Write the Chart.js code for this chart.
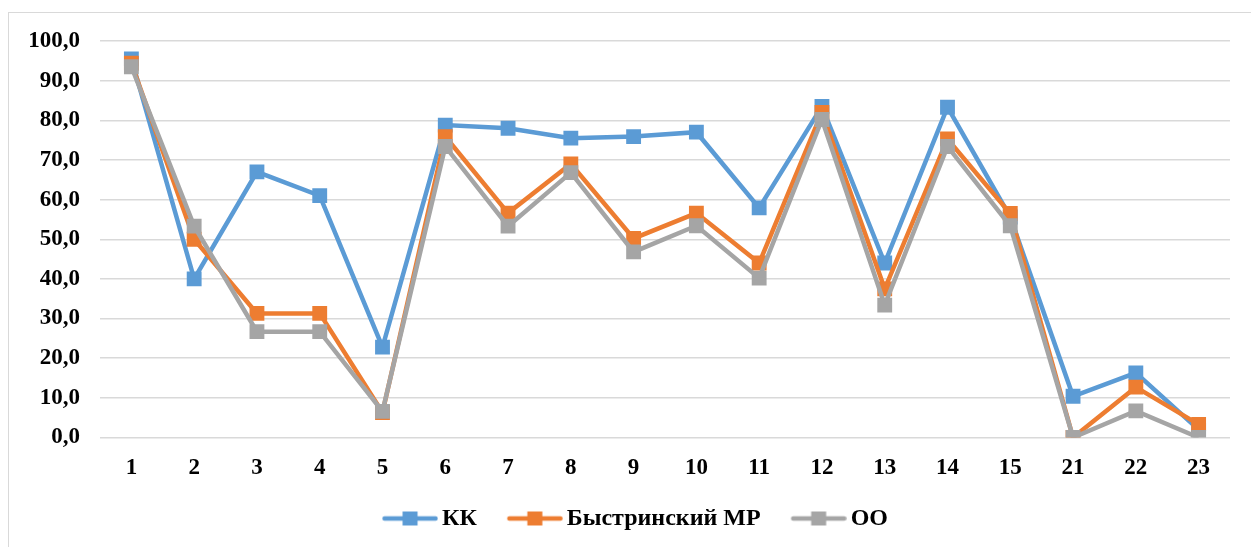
<!DOCTYPE html>
<html><head><meta charset="utf-8">
<script src="https://cdn.jsdelivr.net/npm/chart.js@4"></script>
<style>
html,body{margin:0;padding:0;background:#fff;overflow:hidden;width:1251px;height:547px;}
#frame{position:absolute;left:8px;top:12px;width:1260px;height:560px;border:1px solid #D9D9D9;box-sizing:border-box;}
#c{position:absolute;left:9px;top:13px;}
</style></head><body>
<div id="frame"></div>
<canvas id="c" width="1242" height="534"></canvas>
<script>
const categories = ['1','2','3','4','5','6','7','8','9','10','11','12','13','14','15','21','22','23'];
const seriesKK = [95.5,40.0,67.0,61.0,22.8,78.8,78.0,75.5,75.9,77.0,57.9,83.5,44.0,83.3,55.6,10.4,16.3,2.0];
const seriesMR = [94.4,50.0,31.3,31.3,6.3,75.9,56.6,69.0,50.2,56.6,44.0,82.0,37.5,75.3,56.5,0.0,12.7,3.3];
const seriesOO = [93.5,53.3,26.7,26.7,6.6,73.4,53.3,66.8,46.8,53.4,40.2,80.2,33.4,73.4,53.4,0.0,6.7,0.0];
const seriesNames = ['КК','Быстринский МР','ОО'];
const colors = ['#5B9BD5','#ED7D31','#A5A5A5'];
const yTicks = [0,10,20,30,40,50,60,70,80,90,100];

function legendIcon(color){
  const m=10;
  const cv=document.createElement('canvas');cv.width=m+56;cv.height=16;
  const g=cv.getContext('2d');
  g.strokeStyle=color;g.lineWidth=4.5;g.lineCap='round';
  g.beginPath();g.moveTo(m+2.5,8);g.lineTo(m+53.5,8);g.stroke();
  g.fillStyle=color;g.fillRect(m+20.5,1,15,14);
  return cv;
}
const icons = colors.map(legendIcon);

const seriesData=[seriesKK,seriesMR,seriesOO];
const datasets = seriesData.map((d,i)=>({
  label:seriesNames[i],data:d,borderColor:colors[i],backgroundColor:colors[i],
  borderWidth:4.5,pointStyle:'rect',pointRadius:10.5,pointHoverRadius:10.5,pointBorderWidth:0,
  tension:0,order:3-i
}));
const F='Liberation Serif';
new Chart(document.getElementById('c'),{
  type:'line',
  data:{labels:categories,datasets},
  options:{
    responsive:false,animation:false,
    layout:{padding:{left:8,right:0,top:28,bottom:6.5}},
    plugins:{
      tooltip:{enabled:false},
      legend:{position:'bottom',
        labels:{usePointStyle:true,pointStyleWidth:50,color:'#000',padding:28,
          font:{family:F,weight:'bold',size:24},
          generateLabels:(chart)=>chart.data.datasets.map((ds,i)=>({
            text:ds.label,pointStyle:icons[i],fillStyle:colors[i],strokeStyle:colors[i],
            lineWidth:0,hidden:false,datasetIndex:i,fontColor:'#000'}))
        }
      }
    },
    scales:{
      x:{offset:true,grid:{display:false},border:{display:false},
        afterFit:(s)=>{s.height=41;s.paddingRight=21;s.paddingLeft=0;},
        ticks:{color:'#000',padding:9,maxRotation:0,font:{family:F,weight:'bold',size:23}}},
      y:{min:0,max:100,
        afterBuildTicks:(s)=>{s.ticks=yTicks.map(v=>({value:v}));},
        afterFit:(s)=>{s.width=83;s.paddingTop=0;s.paddingBottom=0;},
        grid:{color:'#D9D9D9',lineWidth:1.5,drawTicks:false},border:{display:false},
        ticks:{color:'#000',padding:20,font:{family:F,weight:'bold',size:23},
          callback:(v)=>v.toFixed(1).replace('.',',')}}
    }
  }
});
</script>
</body></html>
